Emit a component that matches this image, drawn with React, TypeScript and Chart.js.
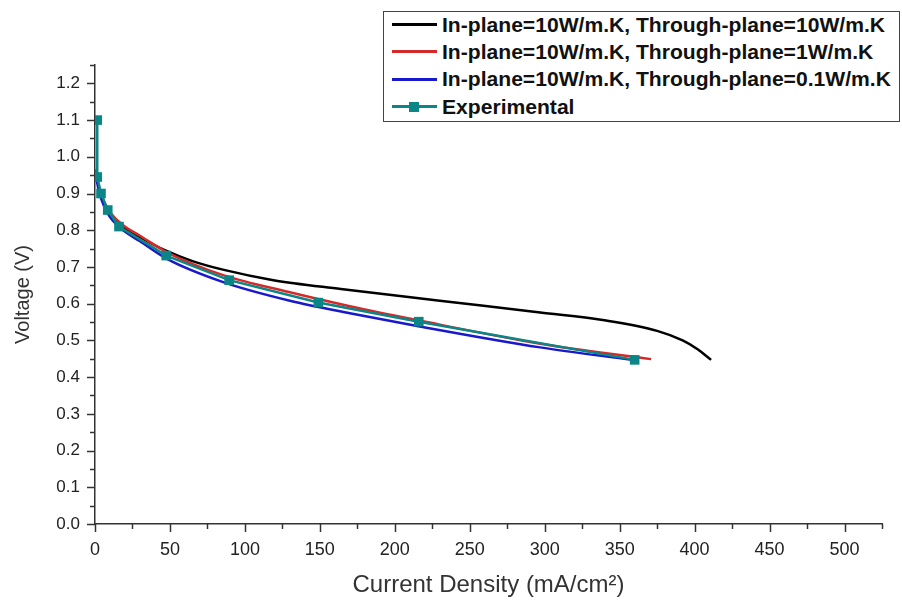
import React, { useEffect, useRef } from "react";
import { Chart, registerables } from "chart.js";

Chart.register(...registerables);

const SERIES_LABELS = [
  "In-plane=10W/m.K, Through-plane=10W/m.K",
  "In-plane=10W/m.K, Through-plane=1W/m.K",
  "In-plane=10W/m.K, Through-plane=0.1W/m.K",
  "Experimental",
];
const SERIES_COLORS = ["#000000", "#d42a2a", "#1818cc", "#0b8585"];

const BLACK_X = [0.5, 1, 3, 6, 10, 20, 30, 47, 65, 86, 119, 164, 230, 297, 341, 375, 392, 402, 411];
const BLACK_Y = [0.965, 0.948, 0.912, 0.877, 0.848, 0.806, 0.781, 0.745, 0.716, 0.692, 0.664, 0.64, 0.608, 0.576, 0.554, 0.526, 0.5, 0.476, 0.447];

const RED_X = [0.5, 1, 3, 6, 10, 19, 30, 48, 86, 130, 170, 214, 297, 371];
const RED_Y = [0.965, 0.948, 0.912, 0.877, 0.849, 0.813, 0.785, 0.74, 0.677, 0.631, 0.593, 0.556, 0.491, 0.449];

const BLUE_X = [0.5, 1, 3, 6, 10, 19, 30, 48, 86, 130, 170, 214, 297, 358];
const BLUE_Y = [0.955, 0.94, 0.9, 0.866, 0.836, 0.799, 0.77, 0.722, 0.658, 0.608, 0.574, 0.54, 0.481, 0.447];

const EXP_X = [1.5, 1.5, 4, 8.5, 16, 47.5, 89.5, 149, 216, 360];
const EXP_Y = [1.1, 0.945, 0.9, 0.855, 0.81, 0.731, 0.664, 0.603, 0.551, 0.447];

const X_TICKS = [0, 50, 100, 150, 200, 250, 300, 350, 400, 450, 500];
const Y_TICKS = [0, 0.1, 0.2, 0.3, 0.4, 0.5, 0.6, 0.7, 0.8, 0.9, 1.0, 1.1, 1.2];
const X_MIN = 0;
const X_MAX = 525;
const Y_MIN = 0;
const Y_MAX = 1.25;
const X_MINOR_STEP = 25;
const Y_MINOR_STEP = 0.05;

const X_TITLE = "Current Density (mA/cm²)";
const Y_TITLE = "Voltage (V)";

const FONT = "'Liberation Sans', Arial, sans-serif";
const AXIS_COLOR = "#333333";

const pts = (xs: number[], ys: number[]) => xs.map((x, i) => ({ x, y: ys[i] }));

const tickPlugin = {
  id: "axisTicks",
  afterDraw(chart: any) {
    const { ctx } = chart;
    const xs = chart.scales.x;
    const ys = chart.scales.y;
    ctx.save();
    ctx.strokeStyle = AXIS_COLOR;
    ctx.lineWidth = 1.5;
    const nx = Math.round((X_MAX - X_MIN) / X_MINOR_STEP);
    for (let i = 0; i <= nx; i++) {
      const v = X_MIN + i * X_MINOR_STEP;
      const px = Math.round(xs.getPixelForValue(v)) + 0.5;
      const len = i % 2 === 0 ? 8 : 5;
      ctx.beginPath();
      ctx.moveTo(px, ys.bottom);
      ctx.lineTo(px, ys.bottom + len);
      ctx.stroke();
    }
    const ny = Math.round((Y_MAX - Y_MIN) / Y_MINOR_STEP);
    for (let i = 0; i <= ny; i++) {
      const v = Y_MIN + i * Y_MINOR_STEP;
      const py = Math.round(ys.getPixelForValue(v)) + 0.5;
      const len = i % 2 === 0 ? 8 : 5;
      ctx.beginPath();
      ctx.moveTo(xs.left, py);
      ctx.lineTo(xs.left - len, py);
      ctx.stroke();
    }
    ctx.restore();
  },
};

function Legend() {
  const rowCenters = [23.5, 50.5, 78, 105.5];
  return (
    <div
      style={{
        position: "absolute",
        left: 383,
        top: 11,
        width: 517,
        height: 111,
        border: "1.5px solid #444",
        background: "#fff",
        boxSizing: "border-box",
        fontFamily: FONT,
        fontWeight: "bold",
        fontSize: 21.1,
        color: "#111",
      }}
    >
      {SERIES_LABELS.map((label, i) => (
        <div
          key={label}
          style={{
            position: "absolute",
            left: 0,
            top: rowCenters[i] - 11 - 14,
            height: 28,
            lineHeight: "28px",
            whiteSpace: "nowrap",
          }}
        >
          <span
            style={{
              position: "absolute",
              left: 8,
              top: 12.5,
              width: 45,
              height: 3,
              background: SERIES_COLORS[i],
            }}
          />
          {i === 3 && (
            <span
              style={{
                position: "absolute",
                left: 25,
                top: 9.5,
                width: 10,
                height: 10,
                background: SERIES_COLORS[i],
              }}
            />
          )}
          <span style={{ position: "absolute", left: 58, top: 0 }}>{label}</span>
        </div>
      ))}
    </div>
  );
}

export default function App() {
  const canvasRef = useRef<HTMLCanvasElement | null>(null);

  useEffect(() => {
    const canvas = canvasRef.current;
    if (!canvas) return;
    const modelSets = [
      pts(BLACK_X, BLACK_Y),
      pts(RED_X, RED_Y),
      pts(BLUE_X, BLUE_Y),
    ].map((data, i) => ({
      label: SERIES_LABELS[i],
      data,
      borderColor: SERIES_COLORS[i],
      backgroundColor: SERIES_COLORS[i],
      borderWidth: 2.5,
      pointRadius: 0,
      cubicInterpolationMode: "monotone" as const,
      fill: false,
      order: 3 - i,
    }));
    const expSet = {
      label: SERIES_LABELS[3],
      data: pts(EXP_X, EXP_Y),
      borderColor: SERIES_COLORS[3],
      backgroundColor: SERIES_COLORS[3],
      borderWidth: 2.5,
      pointStyle: "rect" as const,
      pointRadius: 6.8,
      pointBorderWidth: 0,
      tension: 0,
      fill: false,
      order: 0,
    };

    const chart = new Chart(canvas, {
      type: "line",
      data: { datasets: [...modelSets, expSet] },
      options: {
        animation: false,
        responsive: true,
        maintainAspectRatio: false,
        layout: { padding: { top: 65, right: 20, left: 0, bottom: 0 } },
        plugins: {
          legend: { display: false },
          tooltip: { enabled: false },
        },
        scales: {
          x: {
            type: "linear",
            min: X_MIN,
            max: X_MAX,
            afterBuildTicks: (scale: any) => {
              scale.ticks = X_TICKS.map((v) => ({ value: v }));
            },
            afterFit: (scale: any) => {
              scale.height = 77;
            },
            grid: {
              display: true,
              drawOnChartArea: false,
              drawTicks: true,
              tickLength: 8,
              tickColor: "rgba(0,0,0,0)",
            },
            border: { display: true, color: AXIS_COLOR, width: 1.5 },
            ticks: {
              color: "#222",
              font: { family: FONT, size: 18 },
              padding: 7,
              maxRotation: 0,
              autoSkip: false,
              callback: (v: any) => String(v),
            },
            title: {
              display: true,
              text: X_TITLE,
              color: "#333",
              font: { family: FONT, size: 24 },
              padding: { top: 0, bottom: 1 },
            },
          },
          y: {
            type: "linear",
            min: Y_MIN,
            max: Y_MAX,
            afterBuildTicks: (scale: any) => {
              scale.ticks = Y_TICKS.map((v) => ({ value: v }));
            },
            afterFit: (scale: any) => {
              scale.width = 95;
            },
            grid: {
              display: true,
              drawOnChartArea: false,
              drawTicks: true,
              tickLength: 8,
              tickColor: "rgba(0,0,0,0)",
            },
            border: { display: true, color: AXIS_COLOR, width: 1.5 },
            ticks: {
              color: "#222",
              font: { family: FONT, size: 17 },
              padding: 7,
              autoSkip: false,
              callback: (v: any) => Number(v).toFixed(1),
            },
            title: {
              display: true,
              text: Y_TITLE,
              color: "#333",
              font: { family: FONT, size: 20 },
              padding: { top: 11, bottom: 0 },
            },
          },
        },
      },
      plugins: [tickPlugin],
    });
    return () => chart.destroy();
  }, []);

  return (
    <div style={{ position: "absolute", left: 0, top: 0, width: 902, height: 601, background: "#fff" }}>
      <canvas ref={canvasRef} />
      <Legend />
    </div>
  );
}
